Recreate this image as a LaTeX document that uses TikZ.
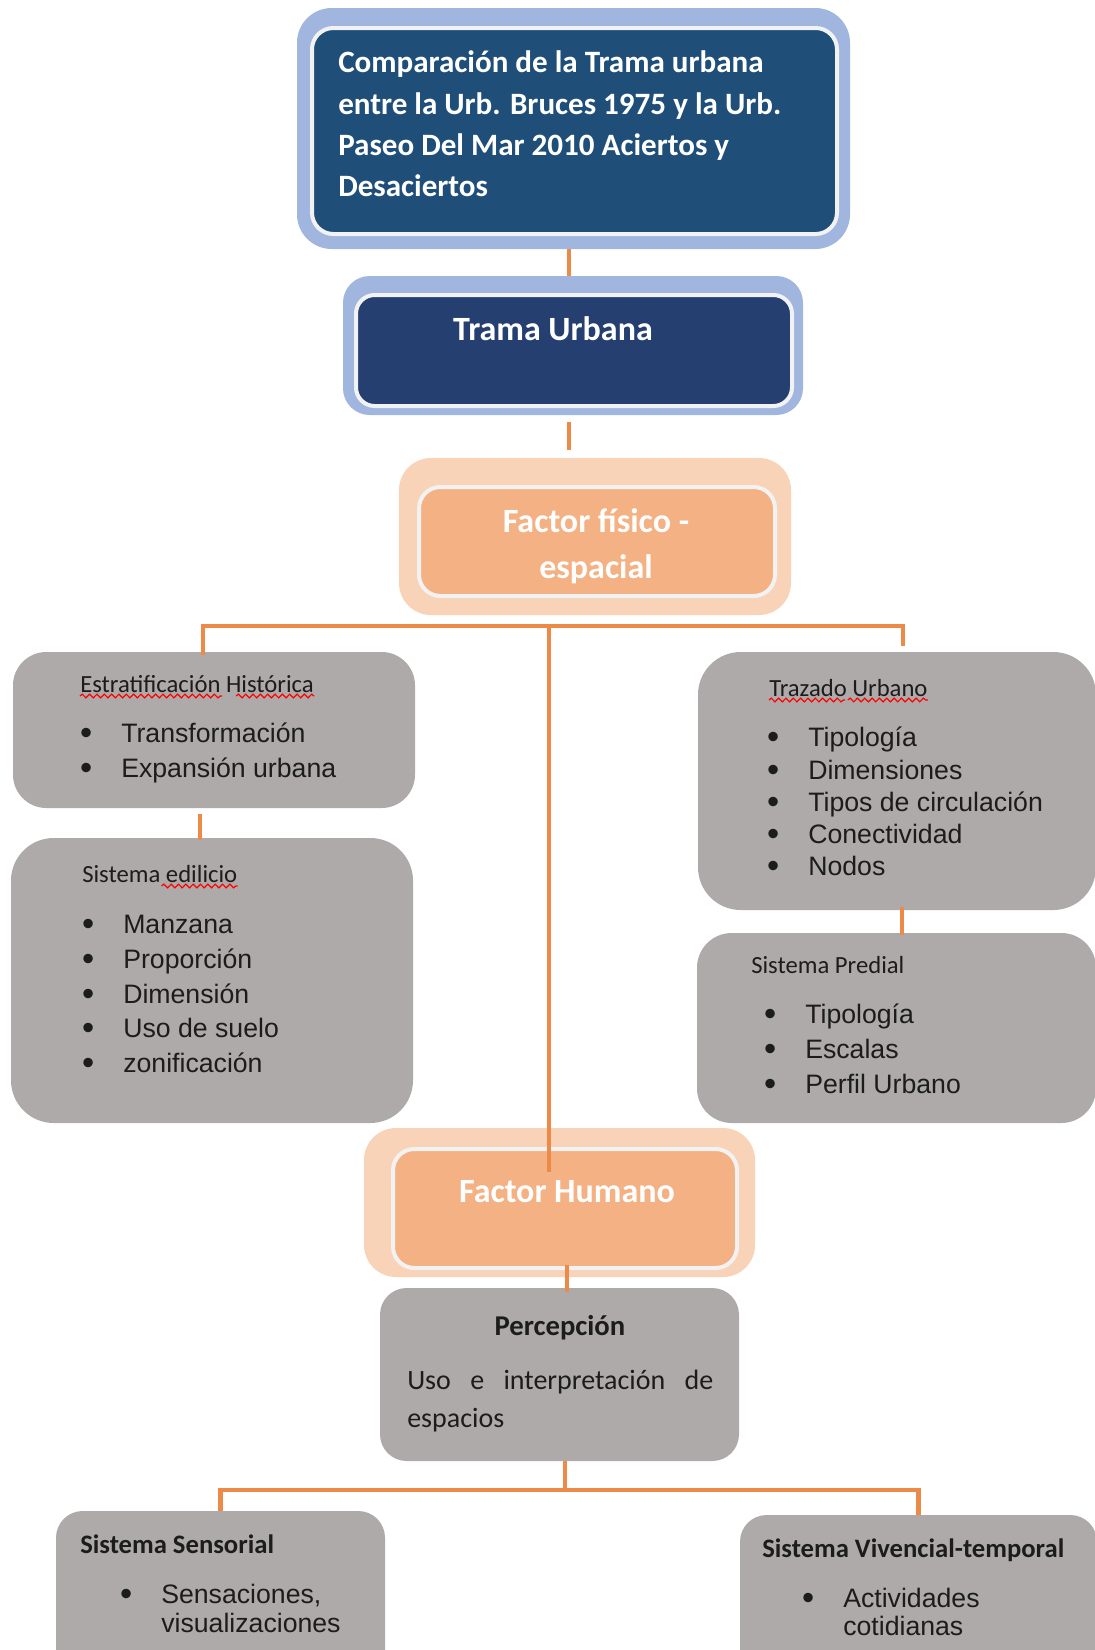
\documentclass[tikz,border=0pt]{standalone}
\usepackage{fontspec}
\setmainfont{Carlito}
\newfontfamily\arialfont{Liberation Sans}
\usetikzlibrary{positioning,calc,decorations.pathmorphing}

\definecolor{darkblue}{HTML}{1F4E79}
\definecolor{navyblue}{HTML}{243F70}
\definecolor{paleblue}{HTML}{A0B6DF}
\definecolor{ringwhite}{HTML}{F2F2F2}
\definecolor{peach}{HTML}{F4B183}
\definecolor{palepeach}{HTML}{F8D3B8}
\definecolor{boxgray}{HTML}{AEAAAA}
\definecolor{linkorange}{HTML}{EE8A48}
\definecolor{textdark}{HTML}{1C1C1C}

\newcommand\bul{\llap{\raisebox{-1.8pt}{\fontsize{26}{26}\selectfont\textbullet}\hspace{21.7pt}}}

\tikzset{
  halo/.style={fill=#1, rounded corners=24pt, inner sep=0},
  ringbox/.style={fill=#1, draw=ringwhite, line width=3pt, rounded corners=16pt, inner sep=0},
  graybox/.style={fill=boxgray, rounded corners=#1, inner sep=0},
  link/.style={draw=linkorange, line width=3.5pt},
  headtxt/.style={text=white, font=\bfseries\fontsize{25.5}{30}\selectfont, inner sep=0, anchor=base},
  titletxt/.style={text=white, font=\bfseries\fontsize{23.3}{28}\selectfont, inner sep=0, anchor=base west},
  captxt/.style={text=textdark, font=\fontsize{18.5}{22}\selectfont, inner sep=0, anchor=base west},
  boldcap/.style={text=textdark, font=\bfseries\fontsize{20}{24}\selectfont, inner sep=0, anchor=base west},
  listtxt/.style={text=textdark, font=\arialfont\fontsize{20}{24}\selectfont, inner sep=0, anchor=base west},
  squiggle/.style={draw=red, line width=0.9pt, decorate, decoration={snake, amplitude=1.4pt, segment length=5.5pt}}
}

\begin{document}
\begin{tikzpicture}[x=0.75pt, y=-0.75pt]
  \path[use as bounding box] (0,0) rectangle (1095,1650);

  % boxes
  \node[halo=paleblue, minimum width=414.75pt, minimum height=180.75pt, rounded corners=26pt] (topout) at (573.5,128.5) {};
  \node[ringbox=darkblue, minimum width=393.75pt, minimum height=154.5pt] (topbox) at (574.5,131) {};

  \node[halo=paleblue, minimum width=345pt, minimum height=104.25pt, rounded corners=20pt] (tramaout) at (573,345.5) {};
  \node[ringbox=navyblue, minimum width=327pt, minimum height=83.25pt, rounded corners=14pt] (trama) at (574,350.5) {};

  \node[halo=palepeach, minimum width=294pt, minimum height=117.75pt] (fisicoout) at (595,536.5) {};
  \node[ringbox=peach, minimum width=267pt, minimum height=81.75pt] (fisico) at (597,541.5) {};

  \node[graybox=25pt, minimum width=301.5pt, minimum height=117pt] (estrat) at (214,730) {};
  \node[graybox=32pt, minimum width=301.5pt, minimum height=213.75pt] (edilicio) at (212,980.5) {};
  \node[graybox=32pt, minimum width=298.5pt, minimum height=193.5pt] (trazado) at (897,781) {};
  \node[graybox=26pt, minimum width=299.25pt, minimum height=142.5pt] (predial) at (896.5,1028) {};

  \node[halo=palepeach, minimum width=293.25pt, minimum height=111.75pt] (humanoout) at (559.5,1202.5) {};
  \node[ringbox=peach, minimum width=258pt, minimum height=89.25pt] (humano) at (565,1208.5) {};
  \node[graybox=20pt, minimum width=269.25pt, minimum height=129.75pt] (percep) at (559.5,1374.5) {};

  \node[graybox=20pt, minimum width=246.75pt, minimum height=134.25pt] (sensorial) at (220.5,1600.5) {};
  \node[graybox=20pt, minimum width=267.75pt, minimum height=131.25pt] (vivencial) at (918.5,1602.5) {};

  % connectors
  \coordinate (fork1) at (549,626);
  \coordinate (fork2) at (565,1490);
  \coordinate (humtop) at (549,1172);

  \draw[link] ($(topout.south)+(-4.5,0)$) -- ($(tramaout.north)+(-4,0)$);
  \draw[link, shorten <=5pt, shorten >=6pt] ($(tramaout.south)+(-4,0)$) -- ($(tramaout.south |- fisicoout.north)+(-4,0)$);
  \draw[link] ($(estrat.north)+(-11,3)$) |- (fork1) -| ($(trazado.north)+(6,-6)$);
  \draw[link] (fork1) -- (humtop);
  \draw[link, shorten <=4pt] ($(estrat.south)+(-14,0)$) -- ($(edilicio.north)+(-12,2)$);
  \draw[link] ($(trazado.south)+(5,-3)$) -- ($(predial.north)+(5.5,2)$);
  \draw[link] ($(humano.south)+(2,-5)$) -- ($(percep.north)+(7.5,4)$);
  \draw[link] (percep.south -| fork2) -- (fork2);
  \draw[link] (sensorial.north) |- (fork2) -| (vivencial.north);

  % texts
  \node[titletxt] (tit1) at (338,72) {Comparación de la Trama urbana};
  \node[titletxt] (tit2) at (338,114) {entre la Urb. Bruces 1975 y la Urb.};
  \node[titletxt] (tit3) at (338,155) {Paseo Del Mar 2010 Aciertos y};
  \node[titletxt] (tit4) at (338,196) {Desaciertos};

  \node[headtxt] (tramatxt) at (553,340) {Trama Urbana};
  \node[headtxt] (fisico1) at (596,532) {Factor físico -};
  \node[headtxt] (fisico2) at (596,578) {espacial};

  \node[captxt] (esttit) at (80,692) {Estratificación Histórica};
  \node[listtxt] (est1) at (121,742) {\bul Transformación};
  \node[listtxt] (est2) at (121,777) {\bul Expansión urbana};

  \node[captxt] (editit) at (82,882) {Sistema edilicio};
  \node[listtxt] (edi1) at (123,933) {\bul Manzana};
  \node[listtxt] (edi2) at (123,968) {\bul Proporción};
  \node[listtxt] (edi3) at (123,1003) {\bul Dimensión};
  \node[listtxt] (edi4) at (123,1037) {\bul Uso de suelo};
  \node[listtxt] (edi5) at (123,1072) {\bul zonificación};

  \node[captxt] (traztit) at (769,696) {Trazado Urbano};
  \node[listtxt] (traz1) at (808,746) {\bul Tipología};
  \node[listtxt] (traz2) at (808,779) {\bul Dimensiones};
  \node[listtxt] (traz3) at (808,811) {\bul Tipos de circulación};
  \node[listtxt] (traz4) at (808,843) {\bul Conectividad};
  \node[listtxt] (traz5) at (808,875) {\bul Nodos};

  \node[captxt] (predtit) at (751,973) {Sistema Predial};
  \node[listtxt] (pred1) at (805,1023) {\bul Tipología};
  \node[listtxt] (pred2) at (805,1058) {\bul Escalas};
  \node[listtxt] (pred3) at (805,1093) {\bul Perfil Urbano};

  \node[headtxt] (humanotxt) at (567,1202) {Factor Humano};

  \node[boldcap, anchor=base, font=\bfseries\fontsize{21.5}{26}\selectfont] (perctit) at (560,1335) {Percepción};
  \node[captxt, font=\fontsize{21}{26}\selectfont] (perc1) at (407,1389) {\makebox[229.5pt][s]{Uso e interpretación de}};
  \node[captxt, font=\fontsize{21}{26}\selectfont] (perc2) at (407,1427) {espacios};

  \node[boldcap] (senstit) at (80,1553) {Sistema Sensorial};
  \node[listtxt] (sens1) at (161,1603) {\bul Sensaciones,};
  \node[listtxt] (sens2) at (161,1632) {visualizaciones};

  \node[boldcap] (vivtit) at (762,1557) {Sistema Vivencial-temporal};
  \node[listtxt] (viv1) at (843,1607) {\bul Actividades};
  \node[listtxt] (viv2) at (843,1635) {cotidianas};

  % spelling marks
  \draw[squiggle] ($(esttit.base west)+(0,4)$) -- ($(esttit.base west)+(142,4)$);
  \draw[squiggle] ($(esttit.base east)+(-78,4)$) -- ($(esttit.base east)+(0,4)$);
  \draw[squiggle] ($(editit.base east)+(-76,4)$) -- ($(editit.base east)+(0,4)$);
  \draw[squiggle] ($(traztit.base west)+(0,4)$) -- ($(traztit.base west)+(76,4)$);
  \draw[squiggle] ($(traztit.base east)+(-80,4)$) -- ($(traztit.base east)+(0,4)$);
\end{tikzpicture}
\end{document}
